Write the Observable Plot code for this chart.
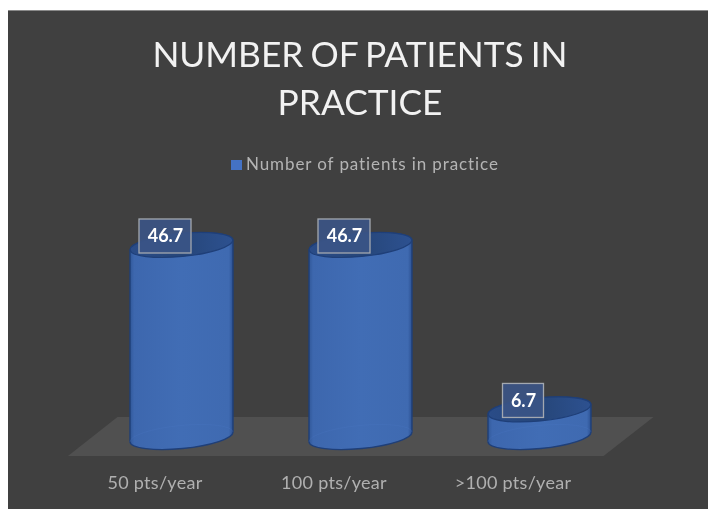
<!DOCTYPE html>
<html><head><meta charset="utf-8">
<style>
html,body{margin:0;padding:0;background:#fff;width:708px;height:509px;overflow:hidden}
#chart{position:absolute;left:8px;top:10px;width:700px;height:499px;background:#404040;border-top:1px solid #8a8a8a;box-sizing:border-box;font-family:Lato,sans-serif;filter:blur(.45px)}
#title{position:absolute;left:2px;top:19px;width:100%;text-align:center;color:#f2f2f2;font-size:35.3px;line-height:48px;font-weight:400;word-spacing:-2px;font-family:Lato,sans-serif}
#legend{position:absolute;left:223px;top:142px;color:#b4b4b4;font-size:17px;line-height:22px;letter-spacing:.9px;white-space:nowrap}
#legend i{display:inline-block;width:11px;height:10px;background:#4472c4;margin-right:4px}
#plot{position:absolute;left:0;top:179px}
#plot svg g[aria-label="x-axis tick label"] text{letter-spacing:.3px}
svg{display:block}
</style>
<script src="https://cdn.jsdelivr.net/npm/d3@7"></script>
<script src="https://cdn.jsdelivr.net/npm/@observablehq/plot@0.6"></script>
</head><body>
<div id="chart">
<div id="title">NUMBER OF PATIENTS IN<br>PRACTICE</div>
<div id="legend"><i></i>Number of patients in practice</div>
<div id="plot"></div>
</div>
<script>
const categories = ["50 pts/year", "100 pts/year", ">100 pts/year"];
const values = [46.7, 46.7, 6.7];
const seriesName = "Number of patients in practice";
const rows = categories.map((category, i) => ({category, value: values[i]}));

const ns = "http://www.w3.org/2000/svg";
function el(name, attrs, parent) {
  const e = document.createElementNS(ns, name);
  for (const k in attrs) e.setAttribute(k, attrs[k]);
  if (parent) parent.appendChild(e);
  return e;
}
function gradient(defs, id, stops) {
  const g = el("linearGradient", {id, x1: 0, x2: 1, y1: 0, y2: 0}, defs);
  stops.forEach(([o, c]) => el("stop", {offset: o, "stop-color": c}, g));
}
const tilt = 5;   // vertical rise of each ellipse between its centre and right end
const minor = 11.5;
const bandOf = s => typeof s.bandwidth === "function" ? s.bandwidth() : s.bandwidth;

function floorMark(index, scales, values, dims) {
  const g = el("g", {});
  const y0 = scales.y(0), l = dims.marginLeft, r = dims.width - dims.marginRight;
  el("path", {
    d: `M${l + 15.5},${y0 + 19}L${l + 65},${y0 - 20}L${r - 15},${y0 - 20}L${r - 65},${y0 + 19}Z`,
    fill: "#505050"
  }, g);
  return g;
}

function cylinders(index, scales, values) {
  const g = el("g", {});
  const defs = el("defs", {}, g);
  gradient(defs, "side", [[0, "#315899"], [.04, "#3d67ae"], [.5, "#416db5"], [.96, "#3f6ab1"], [1, "#2c5192"]]);
  gradient(defs, "cap", [[0, "#2a4c88"], [.5, "#264679"], [1, "#2d5190"]]);
  const w = bandOf(scales.x), rx = w / 2;
  for (const i of index) {
    const xl = values.x[i], xr = xl + w, cx = xl + rx;
    const yb = values.y2[i], yt = values.y1[i];
    const top = Math.min(yb, yt), bot = Math.max(yb, yt);
    const rot = -Math.atan2(tilt, rx) * 180 / Math.PI;
    const arc = (x, y) => `A${rx},${minor} ${rot} 0 0 ${x},${y}`;
    el("path", {
      d: `M${xl},${top + tilt}L${xl},${bot + tilt}${arc(xr, bot - tilt)}L${xr},${top - tilt}${arc(xl, top + tilt)}Z`,
      fill: "url(#side)", stroke: "#1f3f78", "stroke-width": 1.4
    }, g);
    el("path", {
      d: `M${xl},${bot + tilt}A${rx},${minor} ${rot} 0 1 ${xr},${bot - tilt}`,
      fill: "none", stroke: "#4a78c2", "stroke-opacity": .25, "stroke-width": 1
    }, g);
    el("ellipse", {
      cx, cy: top, rx, ry: minor, transform: `rotate(${rot} ${cx} ${top})`,
      fill: "url(#cap)", stroke: "#1f3f78", "stroke-width": 1.2
    }, g);
  }
  return g;
}

function labelBoxes(index, scales, values) {
  const g = el("g", {});
  const half = bandOf(scales.x) / 2;
  for (const i of index) {
    const w = String(rows[i].value).length > 3 ? 52 : 41;
    el("rect", {
      x: values.x[i] + half - 16.5 - w / 2, y: values.y[i] - 9 - 17, width: w, height: 34,
      fill: "#3b5486", "fill-opacity": .9, stroke: "#a3a8b0", "stroke-width": 1.3
    }, g);
  }
  return g;
}

const plot = Plot.plot({
  width: 700, height: 319,
  marginLeft: 44.5, marginRight: 39.5, marginTop: 55, marginBottom: 72,
  style: {background: "transparent", fontFamily: "Lato, sans-serif", overflow: "visible"},
  x: {domain: categories, padding: 0.426, align: 0.5, label: null},
  y: {domain: [0, 46.7], axis: null},
  marks: [
    floorMark,
    Plot.barY(rows, {x: "category", y: "value", render: cylinders}),
    Plot.dot(rows, {x: "category", y: "value", render: labelBoxes}),
    Plot.text(rows, {x: "category", y: "value", text: d => d.value.toFixed(1), dx: -16.5, dy: -9,
      fill: "#ffffff", fontWeight: 700, fontSize: 18}),
    Plot.axisX({anchor: "bottom", tickSize: 0, tickPadding: 39, dx: -27, label: null,
      fontSize: 18, color: "#b0b0b0", stroke: "none"})
  ]
});
document.getElementById("plot").appendChild(plot);
</script>
</body></html>
